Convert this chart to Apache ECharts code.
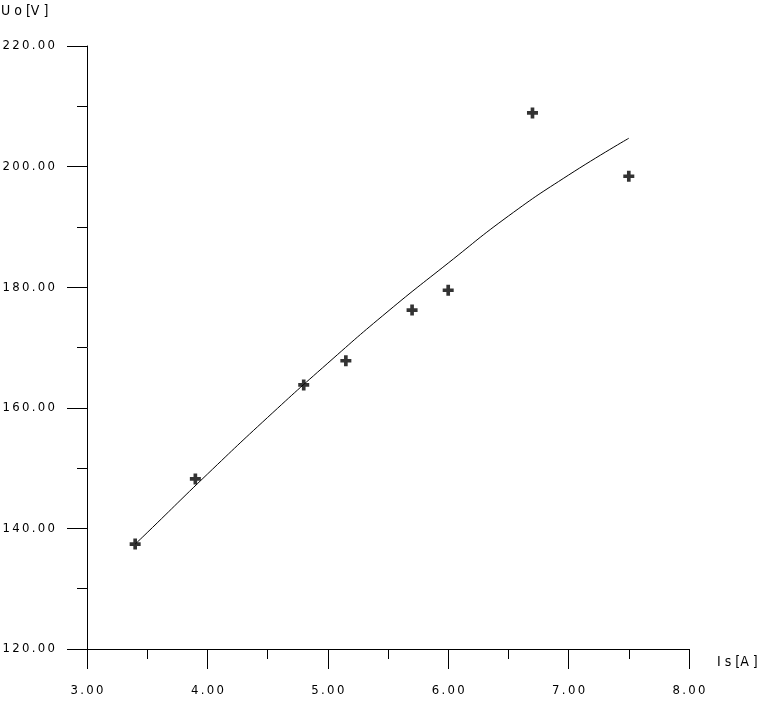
<!DOCTYPE html>
<html>
<head>
<meta charset="utf-8">
<script src="https://cdn.jsdelivr.net/npm/echarts@6/dist/echarts.min.js"></script>
<style>
  html, body { margin: 0; padding: 0; background: #fff; }
  #chart { width: 758px; height: 703px; }
</style>
</head>
<body>
<div id="chart"></div>
<script>
// measured points (Is [A], Uo [V])
const measIs = [3.4, 3.9, 4.8, 5.15, 5.7, 6.0, 6.7, 7.5]
const measUo = [137.4, 148.2, 163.8, 167.8, 176.2, 179.5, 208.9, 198.4]

// fitted curve
const fitIs = [3.4, 3.5, 4.0, 4.5, 5.0, 5.5, 6.0, 6.5, 7.0, 7.5]
const fitUo = [137.4, 139.3, 149.0, 158.4, 167.4, 176.0, 184.0, 191.8, 198.6, 204.7]

const xTitle = 'I s [A ]'
const yTitle = 'U o [V ]'

const font = '"DejaVu Sans Condensed", "Liberation Sans Narrow", sans-serif'
// spread the characters like the plotter font
const spaced = (v) => v.toFixed(2).split('').join('\u2009')

const myCharts = echarts.init(document.getElementById('chart'))
myCharts.setOption({
  animation: false,
  backgroundColor: '#fff',
  grid: {
    left: 87,
    right: 69,
    top: 46,
    bottom: 54,
    containLabel: false,
    outerBoundsMode: 'none',
  },
  xAxis: {
    type: 'value',
    min: 3,
    max: 8,
    interval: 1,
    axisLine: { show: true, lineStyle: { color: '#000', width: 1 } },
    axisTick: { show: true, length: 20, lineStyle: { color: '#000', width: 1 } },
    minorTick: { show: true, splitNumber: 2, length: 10, lineStyle: { color: '#000', width: 1 } },
    splitLine: { show: false },
    axisLabel: {
      margin: 35,
      color: '#000',
      fontFamily: font,
      fontSize: 13,
      formatter: spaced,
    },
  },
  yAxis: {
    type: 'value',
    min: 120,
    max: 220,
    interval: 20,
    axisLine: { show: true, lineStyle: { color: '#000', width: 1 } },
    axisTick: { show: true, length: 20, lineStyle: { color: '#000', width: 1 } },
    minorTick: { show: true, splitNumber: 2, length: 10, lineStyle: { color: '#000', width: 1 } },
    splitLine: { show: false },
    axisLabel: {
      margin: 32,
      color: '#000',
      fontFamily: font,
      fontSize: 13,
      formatter: spaced,
    },
  },
  graphic: [
    {
      type: 'text',
      left: 1,
      top: 4,
      style: { text: yTitle, fill: '#000', font: '14px ' + font },
    },
    {
      type: 'text',
      left: 717,
      top: 655,
      style: { text: xTitle, fill: '#000', font: '14px ' + font },
    },
  ],
  series: [
    {
      name: 'fit',
      type: 'line',
      smooth: true,
      showSymbol: false,
      lineStyle: { color: '#000', width: 1 },
      data: fitIs.map((x, i) => [x, fitUo[i]]),
    },
    {
      name: 'meas',
      type: 'scatter',
      symbol: 'path://M1,0H2V1H3V2H2V3H1V2H0V1H1Z',
      symbolSize: 11,
      itemStyle: { color: '#000' },
      data: measIs.map((x, i) => [x, measUo[i]]),
    },
  ],
})
</script>
</body>
</html>
